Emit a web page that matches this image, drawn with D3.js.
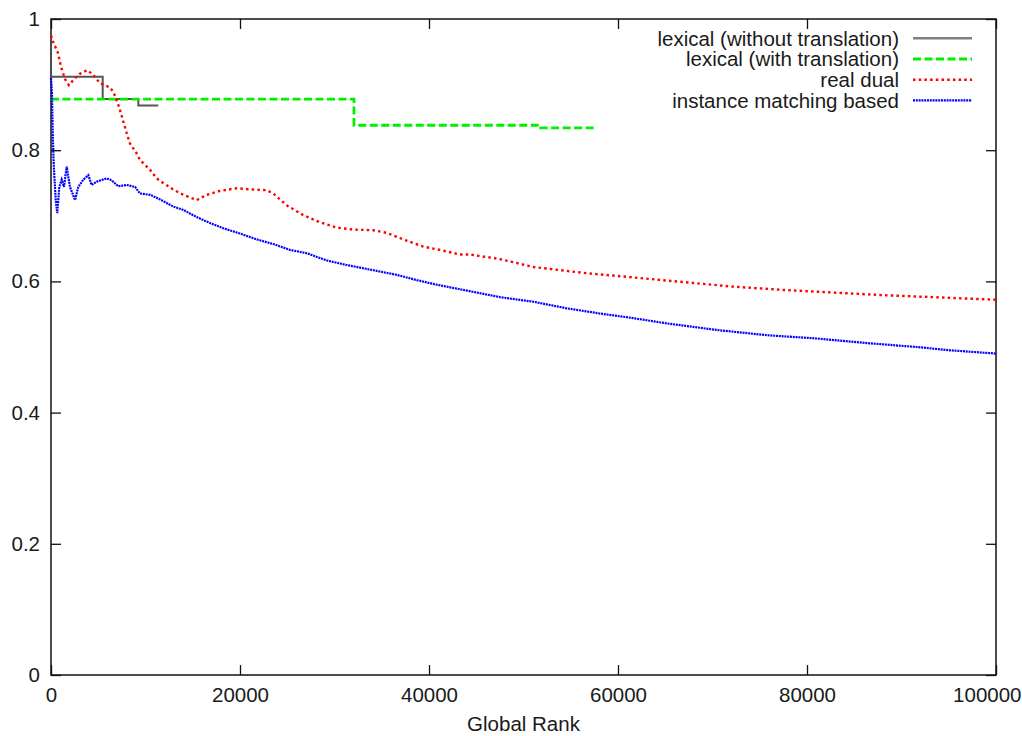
<!DOCTYPE html>
<html>
<head>
<meta charset="utf-8">
<script src="https://cdn.jsdelivr.net/npm/d3@7"></script>
<style>
  html, body { margin: 0; padding: 0; background: #fff; overflow: hidden; }
  text { font-family: "Liberation Sans", Arial, sans-serif; fill: #1a1a1a; }
</style>
</head>
<body>
<div id="chart"></div>
<script>
// data: [global rank, value]
const lexicalNoTrans = [[0, 0.912], [5470, 0.878], [9240, 0.868], [11350, 0.868]];
const lexicalTrans = [[0, 0.878], [32060, 0.838], [51810, 0.834], [57730, 0.834]];
const realDual = [
  [0, 0.975], [300, 0.962], [700, 0.950], [1100, 0.925], [1500, 0.908], [1900, 0.899],
  [2300, 0.906], [3000, 0.916], [3800, 0.922], [4400, 0.916], [5200, 0.902], [6200, 0.896],
  [6600, 0.889], [7200, 0.866], [8010, 0.826], [8360, 0.810], [9070, 0.795], [9420, 0.785],
  [10480, 0.770], [11180, 0.757], [11880, 0.750], [12940, 0.740], [14000, 0.732], [15420, 0.724],
  [16480, 0.732], [17880, 0.738], [19650, 0.742], [21410, 0.740], [22830, 0.739], [23520, 0.734],
  [24940, 0.716], [26700, 0.701], [28470, 0.690], [30230, 0.682], [31990, 0.679], [34110, 0.678],
  [35520, 0.674], [37280, 0.664], [39400, 0.653], [41160, 0.648], [43280, 0.641], [44340, 0.641],
  [47510, 0.634], [51040, 0.622], [56330, 0.613], [61620, 0.606], [66910, 0.599], [72200, 0.592],
  [77490, 0.587], [82780, 0.583], [88080, 0.579], [93370, 0.576], [100000, 0.572]
];
const instanceBased = [
  [0, 0.910], [100, 0.887], [200, 0.816], [300, 0.775], [500, 0.724], [660, 0.704],
  [880, 0.744], [1130, 0.755], [1370, 0.744], [1660, 0.775], [2010, 0.744], [2540, 0.724],
  [2890, 0.744], [3420, 0.755], [3950, 0.762], [4300, 0.747], [4830, 0.752], [5890, 0.757],
  [6420, 0.754], [7120, 0.745], [8010, 0.747], [8890, 0.744], [9420, 0.734], [10480, 0.732],
  [11540, 0.725], [12940, 0.714], [14000, 0.709], [15420, 0.698], [16830, 0.689], [18230, 0.681],
  [20000, 0.673], [21770, 0.664], [23520, 0.657], [25290, 0.648], [27050, 0.643], [29170, 0.632],
  [31290, 0.625], [34110, 0.617], [36580, 0.610], [38700, 0.602], [40810, 0.595], [44000, 0.586],
  [47510, 0.576], [51040, 0.569], [54570, 0.559], [58100, 0.551], [61620, 0.544], [65150, 0.536],
  [70440, 0.526], [75730, 0.518], [81020, 0.513], [86310, 0.506], [91600, 0.500], [95130, 0.495],
  [100000, 0.490]
];
const xTicks = [0, 20000, 40000, 60000, 80000, 100000];
const yTicks = [0, 0.2, 0.4, 0.6, 0.8, 1];
const seriesNames = ["lexical (without translation)", "lexical (with translation)", "real dual", "instance matching based"];

const W = 1022, H = 736;
const mLeft = 51, mRight = 996, mTop = 19, mBottom = 675;
const fontSize = "20.5px";

const svg = d3.select("#chart").append("svg")
  .attr("width", W).attr("height", H);

const x = d3.scaleLinear().domain([0, 100000]).range([mLeft, mRight]);
const y = d3.scaleLinear().domain([0, 1]).range([mBottom, mTop]);

// axes, ticks pointing inward like gnuplot
const styleAxis = g => {
  g.select(".domain").remove();
  g.selectAll(".tick line").attr("stroke", "#111").attr("stroke-width", 1.3);
  g.selectAll("text").style("font-size", fontSize).attr("fill", "#1a1a1a");
};

const xAxisG = svg.append("g").attr("transform", `translate(0,${mBottom})`)
  .call(d3.axisBottom(x).tickValues(xTicks).tickSize(-10).tickPadding(12).tickFormat(d3.format("d")))
  .call(styleAxis);
// last label sits at the page edge: keep it inside
xAxisG.selectAll(".tick text").filter(d => d === 100000)
  .attr("text-anchor", "end").attr("x", W - 1 - mRight);

svg.append("g").attr("transform", `translate(0,${mTop})`)
  .call(d3.axisTop(x).tickValues(xTicks).tickSize(-10).tickFormat(""))
  .call(styleAxis);
svg.append("g").attr("transform", `translate(${mLeft},0)`)
  .call(d3.axisLeft(y).tickValues(yTicks).tickSize(-10).tickPadding(11).tickFormat(d => String(+d.toFixed(1))))
  .call(styleAxis);
svg.append("g").attr("transform", `translate(${mRight},0)`)
  .call(d3.axisRight(y).tickValues(yTicks).tickSize(-10).tickFormat(""))
  .call(styleAxis);

svg.append("rect")
  .attr("x", mLeft).attr("y", mTop)
  .attr("width", mRight - mLeft).attr("height", mBottom - mTop)
  .attr("fill", "none").attr("stroke", "#111").attr("stroke-width", 1.5);

svg.append("text")
  .attr("x", (mLeft + mRight) / 2).attr("y", 731)
  .attr("text-anchor", "middle").style("font-size", fontSize)
  .text("Global Rank");

// series
const styles = [
  { data: lexicalNoTrans, color: "#555555", width: 2, dash: null, curve: d3.curveStepAfter },
  { data: lexicalTrans, color: "#00f000", width: 2.8, dash: "8,3.5", curve: d3.curveStepAfter },
  { data: realDual, color: "#ff0000", width: 2.4, dash: "2.5,3.2", curve: d3.curveLinear },
  { data: instanceBased, color: "#0000ff", width: 2.2, dash: "2,0.8", curve: d3.curveLinear }
];

styles.forEach(s => {
  const line = d3.line().x(d => x(d[0])).y(d => y(d[1])).curve(s.curve);
  svg.append("path")
    .datum(s.data)
    .attr("d", line)
    .attr("fill", "none")
    .attr("stroke", s.color)
    .attr("stroke-width", s.width)
    .attr("stroke-dasharray", s.dash);
});

// legend
const legend = svg.append("g");
seriesNames.forEach((name, i) => {
  const cy = 38.3 + i * 20.7;
  legend.append("text")
    .attr("x", 899).attr("y", cy + 7.2)
    .attr("text-anchor", "end").style("font-size", fontSize)
    .text(name);
  legend.append("line")
    .attr("x1", 913).attr("x2", 972).attr("y1", cy).attr("y2", cy)
    .attr("stroke", i === 0 ? "#808080" : styles[i].color)
    .attr("stroke-width", i === 0 ? 2.5 : styles[i].width)
    .attr("stroke-dasharray", styles[i].dash);
});
</script>
</body>
</html>
